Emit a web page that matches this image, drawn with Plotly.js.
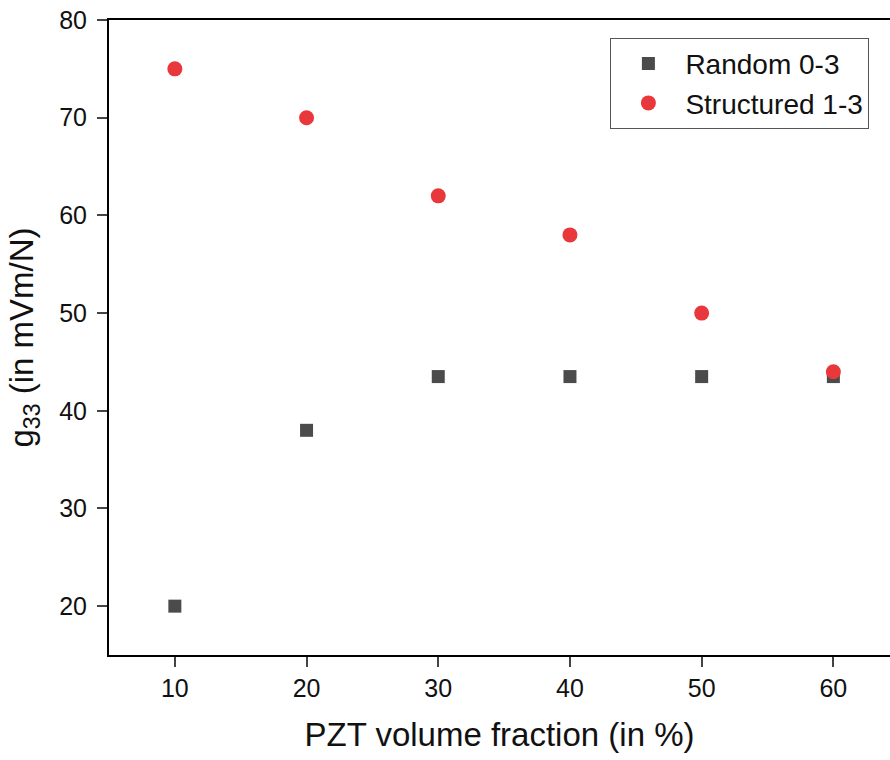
<!DOCTYPE html>
<html><head><meta charset="utf-8">
<script src="https://cdn.plot.ly/plotly-3.0.1.min.js"></script>
<style>body{margin:0;padding:0;background:#fff}#chart{width:890px;height:760px}</style>
</head><body><div id="chart"></div>
<script>
const fractions = [10, 20, 30, 40, 50, 60];
const random03 = [20, 38, 43.5, 43.5, 43.5, 43.5];
const structured13 = [75, 70, 62, 58, 50, 44];
const seriesNames = ["Random 0-3", "Structured 1-3"];
const yTicks = [20, 30, 40, 50, 60, 70, 80];

const traces = [
  {x: fractions, y: random03, name: seriesNames[0], mode: "markers", type: "scatter",
   marker: {symbol: "square", size: 13, color: "#4b4b4b"}},
  {x: fractions, y: structured13, name: seriesNames[1], mode: "markers", type: "scatter",
   marker: {symbol: "circle", size: 15, color: "#e8383b"}}
];
const font = "Liberation Sans, Arial, sans-serif";
const layout = {
  width: 890, height: 760,
  margin: {l: 109, r: 0, t: 20, b: 105},
  paper_bgcolor: "#fff", plot_bgcolor: "#fff",
  font: {family: font, color: "#111"},
  showlegend: true,
  legend: {x: 0.642, y: 0.972, xanchor: "left", yanchor: "top",
    bordercolor: "#555", borderwidth: 1, bgcolor: "#fff",
    font: {size: 28, family: font, color: "#111"}, itemsizing: "trace", itemwidth: 64},
  xaxis: {range: [5, 64.3], tickvals: fractions, ticks: "outside", ticklen: 10, tickwidth: 2,
    showline: true, linewidth: 2, linecolor: "#000", mirror: true, showgrid: false, zeroline: false,
    tickfont: {size: 25, family: font},
    title: {text: "PZT volume fraction (in %)", font: {size: 33, family: font}, standoff: 22}},
  yaxis: {range: [15, 80], tickvals: yTicks, ticks: "outside", ticklen: 10, tickwidth: 2,
    showline: true, linewidth: 2, linecolor: "#000", showgrid: false, zeroline: false,
    tickfont: {size: 25, family: font}, ticklabelstandoff: 5,
    title: {text: "g<sub>33</sub> (in mVm/N)", font: {size: 33, family: font}, standoff: 16}}
};
Plotly.newPlot("chart", traces, layout, {displayModeBar: false});
</script></body></html>
